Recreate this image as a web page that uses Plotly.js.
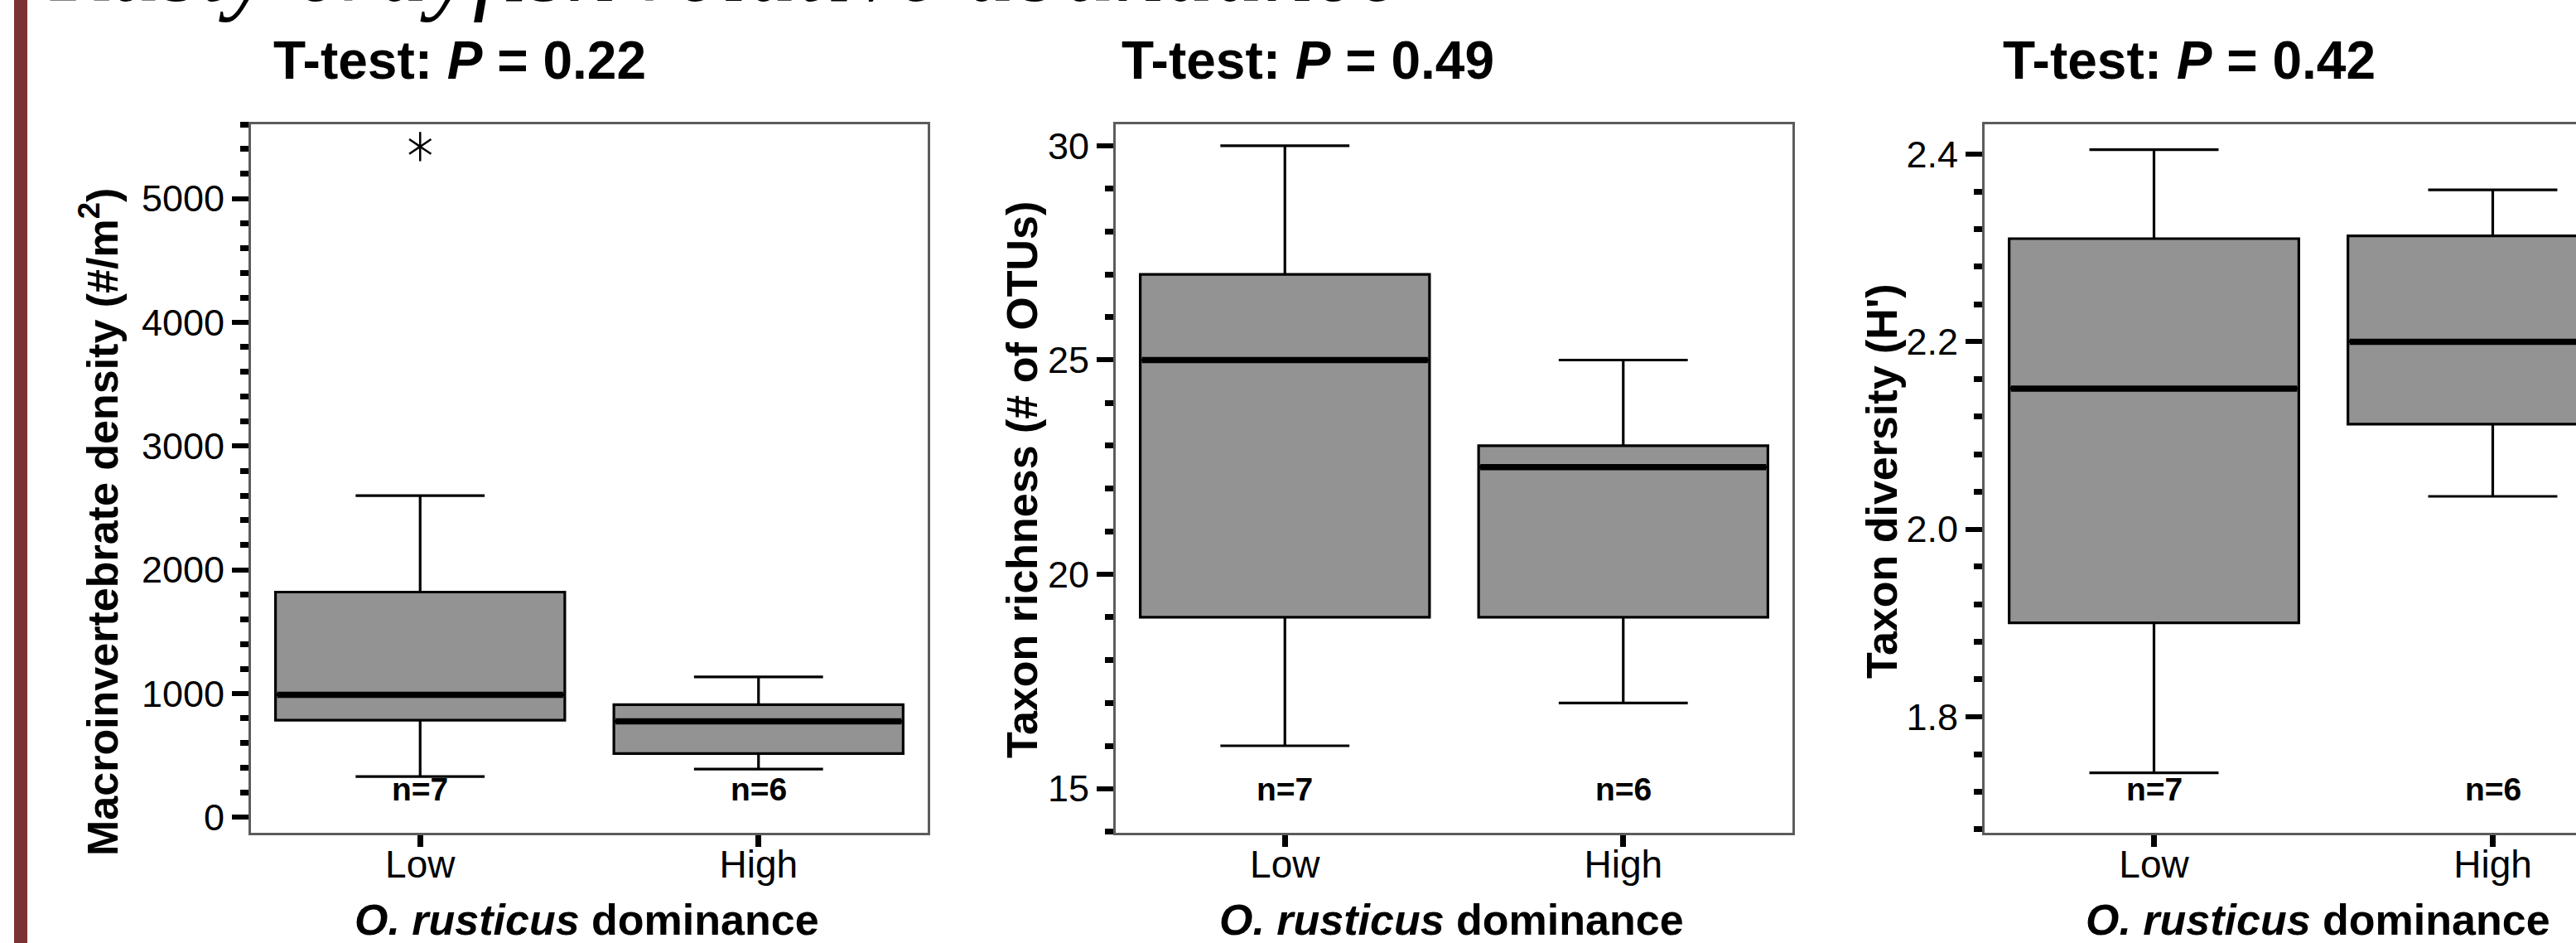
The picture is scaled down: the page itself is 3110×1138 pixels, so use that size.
<!DOCTYPE html>
<html>
<head>
<meta charset="utf-8">
<script src="https://cdn.plot.ly/plotly-3.0.1.min.js"></script>
<style>
html, body { margin:0; padding:0; background:#fff; overflow:hidden; }
#chart { width:3240px; height:1138px; }
</style>
</head>
<body>
<div id="chart"></div>
<script>
// ---------------- data ----------------
const categories = ['Low', 'High'];
const catPos = [0, 1];
const nLabels = ['n=7', 'n=6'];
const pValues = ['0.22', '0.49', '0.42'];
const mainTitle = 'Rusty crayfish relative abundance';
const xTitle = '<b><i>O. rusticus</i> dominance</b>';
const yTitles = ['Macroinvertebrate density (#/m<sup>2</sup>)', 'Taxon richness (# of OTUs)', "Taxon diversity (H')"];

// Macroinvertebrate density (#/m2)
const densLower  = [330, 390];
const densQ1     = [785, 515];
const densMedian = [990, 775];
const densQ3     = [1820, 910];
const densUpper  = [2600, 1135];
const densOutlierCat = ['Low'];
const densOutlierVal = [5420];

// Taxon richness (# of OTUs)
const richLower  = [16, 17];
const richQ1     = [19, 19];
const richMedian = [25, 22.5];
const richQ3     = [27, 23];
const richUpper  = [30, 25];

// Taxon diversity (H')
const divLower  = [1.74, 2.035];
const divQ1     = [1.90, 2.112];
const divMedian = [2.15, 2.20];
const divQ3     = [2.31, 2.313];
const divUpper  = [2.405, 2.362];

// ---------------- layout geometry ----------------
const W = 3240, H = 1138;
const L = 303, R = 26, T = 150, B = 133;
const PW = W - L - R, PH = H - T - B;
const px = v => (v - L) / PW;
const py = v => (T + PH - v) / PH;
const panelPx = [[303, 1120], [1347, 2164], [2396, 3214]];
const BOXW = 0.855;

const FONT = 'Liberation Sans, Arial, Helvetica, sans-serif';

const panels = [
  {lower: densLower, q1: densQ1, med: densMedian, q3: densQ3, upper: densUpper, range: [-125, 5600], dtick: 1000, minor: 200, fmt: 'd'},
  {lower: richLower, q1: richQ1, med: richMedian, q3: richQ3, upper: richUpper, range: [13.97, 30.5], dtick: 5, minor: 1, fmt: 'd'},
  {lower: divLower, q1: divQ1, med: divMedian, q3: divQ3, upper: divUpper, range: [1.676, 2.432], dtick: 0.2, minor: 0.04, fmt: '.1f'}
];

const traces = [];
const layout = {
  width: W, height: H,
  margin: {l: L, r: R, t: T, b: B, pad: 0},
  paper_bgcolor: '#ffffff', plot_bgcolor: '#ffffff',
  showlegend: false,
  font: {family: FONT, color: '#000'},
  annotations: [],
  shapes: []
};

panels.forEach((p, i) => {
  const sfx = i === 0 ? '' : String(i + 1);
  const xa = 'x' + sfx, ya = 'y' + sfx;
  traces.push({
    type: 'box', xaxis: xa, yaxis: ya,
    x: catPos, q1: p.q1, median: p.med, q3: p.q3,
    lowerfence: p.lower, upperfence: p.upper,
    width: BOXW, whiskerwidth: 0.446,
    boxpoints: false,
    fillcolor: '#939393',
    line: {color: '#000', width: 3.2},
    hoverinfo: 'skip'
  });
  // thick median lines
  const mx = [], my = [];
  catPos.forEach((c, k) => { mx.push(c - BOXW / 2 + 0.005, c + BOXW / 2 - 0.005, null); my.push(p.med[k], p.med[k], null); });
  traces.push({type: 'scatter', mode: 'lines', xaxis: xa, yaxis: ya, x: mx, y: my,
    line: {color: '#000', width: 7.5}, hoverinfo: 'skip'});

  const d0 = px(panelPx[i][0]), d1 = Math.min(1, px(panelPx[i][1]));
  layout['xaxis' + sfx] = {
    domain: [d0, d1], anchor: ya, range: [-0.5, 1.5],
    tickmode: 'array', tickvals: catPos, ticktext: categories,
    ticks: 'outside', ticklen: 14, tickwidth: 7, tickcolor: '#000',
    ticklabelstandoff: -18,
    showline: true, linecolor: '#5c5c5c', linewidth: 3, mirror: true,
    showgrid: false, zeroline: false,
    tickfont: {family: FONT, size: 46, color: '#000'}
  };
  layout['yaxis' + sfx] = {
    domain: [0, 1], anchor: xa, range: p.range,
    tick0: 0, dtick: p.dtick, tickformat: p.fmt,
    ticks: 'outside', ticklen: 20, tickwidth: 6, tickcolor: '#000',
    minor: {dtick: p.minor, tick0: 0, ticks: 'outside', ticklen: 10, tickwidth: 7, tickcolor: '#000', showgrid: false},
    showline: true, linecolor: '#5c5c5c', linewidth: 3, mirror: true,
    showgrid: false, zeroline: false,
    tickfont: {family: FONT, size: 45, color: '#000'}
  };
  // n labels
  nLabels.forEach((t, k) => {
    layout.annotations.push({xref: xa, yref: 'paper', x: catPos[k], y: py(952), text: '<b>' + t + '</b>',
      showarrow: false, xanchor: 'center', yanchor: 'middle', font: {family: FONT, size: 39, color: '#000'}});
  });
});

// outlier (six-armed asterisk built from two marker symbols)
const outX = densOutlierCat.map(c => catPos[categories.indexOf(c)]);
['y-up-open', 'y-down-open'].forEach(sym => {
  traces.push({type: 'scatter', mode: 'markers', xaxis: 'x', yaxis: 'y',
    x: outX, y: densOutlierVal,
    marker: {symbol: sym, size: 22, color: '#000', line: {color: '#000', width: 2.5}}, hoverinfo: 'skip'});
});

// panel titles
const titleX = [328, 1352, 2416];
pValues.forEach((pv, i) => {
  layout.annotations.push({xref: 'paper', yref: 'paper', x: px(titleX[i]), y: py(73), xanchor: 'left', yanchor: 'middle',
    text: '<b>T-test: <i>P</i> = ' + pv + '</b>', showarrow: false, font: {family: FONT, size: 64, color: '#000'}});
});
// y titles
const yTitlePos = [[120, 630], [1234, 579], [2272, 581]];
yTitles.forEach((t, i) => {
  layout.annotations.push({xref: 'paper', yref: 'paper', x: px(yTitlePos[i][0]), y: py(yTitlePos[i][1]),
    xanchor: 'center', yanchor: 'middle', textangle: -90,
    text: '<b>' + t + '</b>', showarrow: false, font: {family: FONT, size: 52, color: '#000'}});
});
// x titles
const xTitleX = [708, 1752, 2798];
xTitleX.forEach(x => {
  layout.annotations.push({xref: 'paper', yref: 'paper', x: px(x), y: py(1110), xanchor: 'center', yanchor: 'middle',
    text: xTitle, showarrow: false, font: {family: FONT, size: 52, color: '#000'}});
});
// cut-off main title
layout.annotations.push({xref: 'paper', yref: 'paper', x: px(58), y: py(29), xanchor: 'left', yanchor: 'bottom',
  text: '<i>' + mainTitle + '</i>', showarrow: false, font: {family: 'Liberation Serif, serif', size: 120, color: '#000'}});

// left maroon bar
layout.shapes.push({type: 'rect', xref: 'paper', yref: 'paper', x0: px(17), x1: px(33), y0: py(1138), y1: py(0),
  fillcolor: '#7a3232', line: {width: 0}, layer: 'above'});

Plotly.newPlot('chart', traces, layout, {staticPlot: true, displayModeBar: false});
</script>
</body>
</html>
